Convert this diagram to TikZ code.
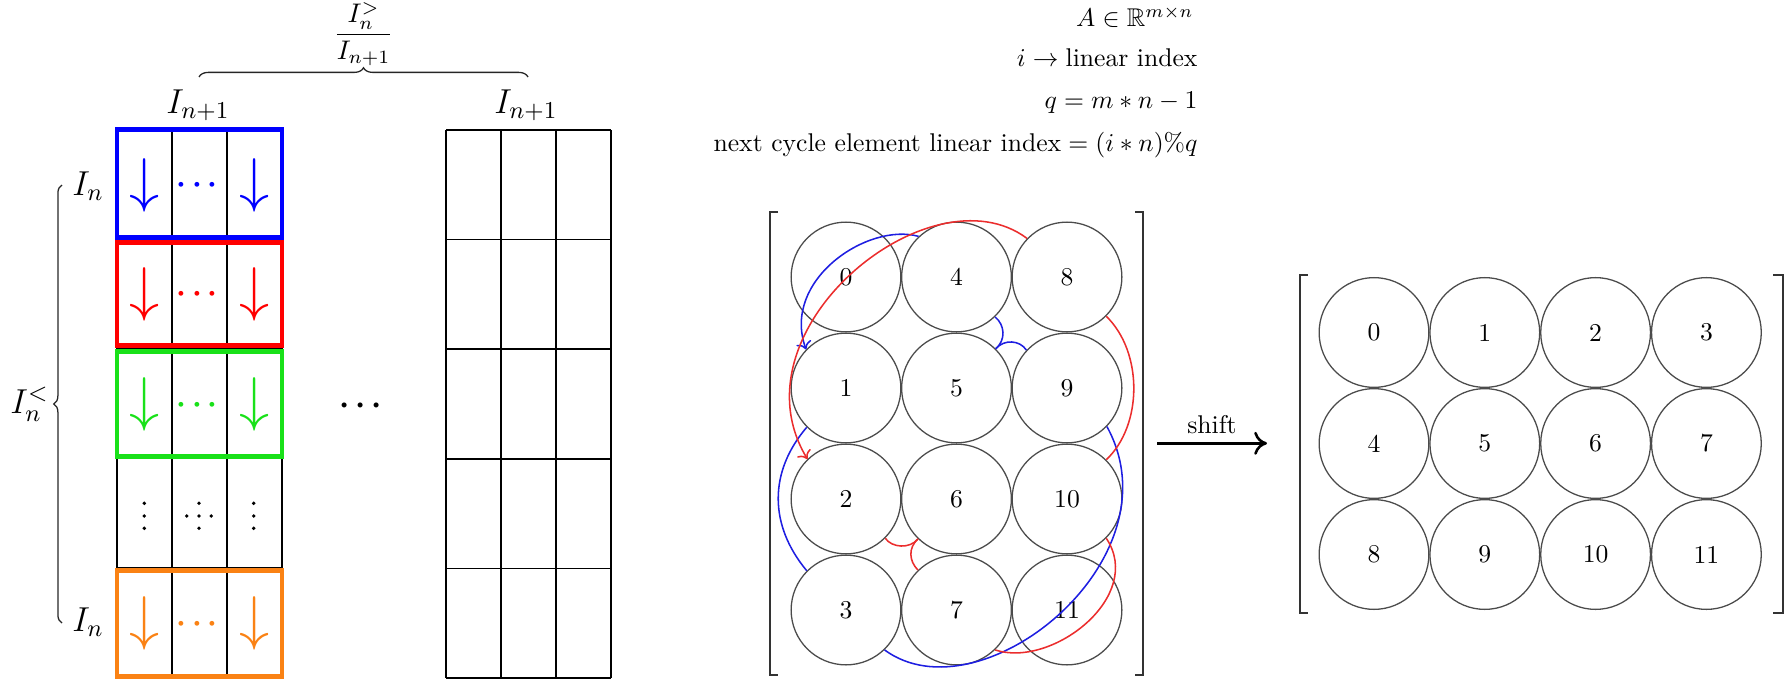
\RequirePackage{fix-cm}
\documentclass[tikz,border=0pt]{standalone}
\usepackage{amssymb}
\usetikzlibrary{decorations.pathreplacing,arrows.meta}
\definecolor{cgreen}{RGB}{25,225,25}
\definecolor{corange}{RGB}{250,130,20}
\definecolor{cred}{RGB}{255,0,0}
\definecolor{cblue}{RGB}{0,0,255}
\definecolor{arcred}{RGB}{235,45,45}
\definecolor{arcblue}{RGB}{30,30,225}
\definecolor{ringgray}{RGB}{75,75,75}
\tikzset{
 big/.style={font=\fontsize{13.5}{16}\selectfont, inner sep=0pt},
 darr/.style={font=\fontsize{23.5}{24}\selectfont, inner sep=0pt},
 ell/.style={font=\fontsize{12}{14}\selectfont\boldmath, inner sep=0pt, anchor=base},
 cell/.style={draw=black, line width=0.55pt},
 cbox/.style={line width=1.6pt},
 ring/.style={circle, draw=ringgray, line width=0.5pt, minimum size=42.8pt, inner sep=0pt, font=\fontsize{10}{12}\selectfont},
 bracket/.style={draw=black!80, line width=0.7pt},
 cyc/.style={line width=0.6pt},
 txt/.style={anchor=base east, inner sep=0pt},
 bracedeco/.style={decorate, line width=0.5pt, draw=black!85},
 dotf/.style={fill=black},
}
\begin{document}
\begin{tikzpicture}[x=0.39pt,y=-0.39pt]
\useasboundingbox (0,0) rectangle (1791,679);

% ---------- left block grid ----------
\foreach \x in {117,172,227,282} \draw[cell] (\x,129) -- (\x,677);
\foreach \y in {129,239,348,458,568,677} \draw[cell] (117,\y) -- (282,\y);
% ---------- right block grid ----------
\foreach \x in {446,501,556,611} \draw[cell] (\x,130) -- (\x,678);
\foreach \y in {130,239.5,349,459,568.5,678} \draw[cell] (446,\y) -- (611,\y);

% coloured boxes
\draw[cbox, cblue] (117,129.5) rectangle (282,237.5);
\draw[cbox, cred] (117,242.5) rectangle (282,345.5);
\draw[cbox, cgreen] (117,351.5) rectangle (282,456.5);
\draw[cbox, corange] (117,570.5) rectangle (282,676.5);

% arrows in cells
\node[darr, text=cblue] (ab1) at (144.5,185) {$\downarrow$};
\node[darr, text=cblue] (ab3) at (254.5,185) {$\downarrow$};
\node[darr, text=cred] (ar1) at (144.5,294) {$\downarrow$};
\node[darr, text=cred] (ar3) at (254.5,294) {$\downarrow$};
\node[darr, text=cgreen] (ag1) at (144.5,404) {$\downarrow$};
\node[darr, text=cgreen] (ag3) at (254.5,404) {$\downarrow$};
\node[darr, text=corange] (ao1) at (144.5,623) {$\downarrow$};
\node[darr, text=corange] (ao3) at (254.5,623) {$\downarrow$};

% horizontal ellipses
\node[ell, text=cblue] (db) at (197,192.7) {$\cdots$};
\node[ell, text=cred] (dr) at (197,301.7) {$\cdots$};
\node[ell, text=cgreen] (dg) at (197,412.7) {$\cdots$};
\node[ell, text=corange] (do) at (197,631) {$\cdots$};
\node[ell, font=\fontsize{12.5}{14}\selectfont\boldmath] (dm) at (360.7,413) {$\cdots$};

% dots row
\foreach \x in {144.3,199,253.7}
  \foreach \y in {503.3,516,528.3} \fill[dotf] (\x,\y) circle[radius=1.9];
\fill[dotf] (186.8,516) circle[radius=1.9];
\fill[dotf] (211.3,516) circle[radius=1.9];

% labels
\node[big, anchor=base] (lt) at (198,113.3) {$I_{n+1}$};
\node[big, anchor=base] (rt) at (526,113.3) {$I_{n+1}$};
\node[big, anchor=base] (in1) at (88,195) {$I_n$};
\node[big, anchor=base] (in2) at (88,631.7) {$I_n$};
\node[big, anchor=base] (inl) at (29.6,413.3) {$I_n^<$};
\node[font=\fontsize{10.5}{12}\selectfont, inner sep=0pt, anchor=base] (fr) at (363.6,41) {$\displaystyle\frac{I_n^>}{I_{n+1}}$};

% braces
\draw[bracedeco, decoration={brace, amplitude=3.6pt}] (199,77) -- (528,77);
\draw[bracedeco, decoration={brace, amplitude=3.2pt}] (62,623) -- (62,185);

% ---------- text block ----------
\node[txt] (t1) at (1194,26.7) {$A\in\mathbb{R}^{m\times n}$};
\node[txt] (t2) at (1198,66.7) {$i\rightarrow\mbox{linear index}$};
\node[txt] (t3) at (1198,108.3) {$q=m*n-1$};
\node[txt] (t4) at (1198,151.7) {$\mbox{next cycle element linear index}=(i*n)\%q$};

% ---------- left matrix ----------
\foreach \r in {0,...,3}
  \foreach \c in {0,1,2} {
    \pgfmathtruncatemacro\lab{\r+4*\c}
    \node[ring] (m\lab) at ({846+110.5*\c},{277+111*\r}) {\lab};
  }
\draw[bracket] (778,211.7) -- (770,211.7) -- (770,675) -- (778,675);
\draw[bracket] (1135,211.7) -- (1143,211.7) -- (1143,675) -- (1135,675);

% blue cycle 1 -> 3 -> 9 -> 5 -> 4 -> 1
\draw[cyc, arcblue, ->] (m4.133) .. controls (868,222) and (781,280) .. (m1.136);
\draw[cyc, arcblue] (m1.225) .. controls (768.7,471.7) and (768.7,525) .. (m3.135);
\draw[cyc, arcblue] (m3.314) .. controls (980,720) and (1180,560) .. (m9.316);
\draw[cyc, arcblue] (m9.137) .. controls (1020,340) and (1004,339) .. (m5.45);
\draw[cyc, arcblue] (m5.45) .. controls (1006,340) and (1005,325) .. (m4.314);

% red cycle 2 -> 6 -> 7 -> 10 -> 8 -> 2
\draw[cyc, arcred, ->] (m8.136) .. controls (930.7,166.3) and (729.6,329.8) .. (m2.134);
\draw[cyc, arcred] (m2.315) .. controls (892,548) and (910,549) .. (m6.226);
\draw[cyc, arcred] (m6.226) .. controls (908,548) and (909,561) .. (m7.134);
\draw[cyc, arcred] (m7.314) .. controls (1052,668.6) and (1145.2,596.4) .. (m10.315);
\draw[cyc, arcred] (m10.45) .. controls (1143,425) and (1143,352) .. (m8.315);

% ---------- shift arrow ----------
\coordinate (s1) at (1157,443.3);
\coordinate (s2) at (1267,443.3);
\draw[line width=1pt, -{To[length=5pt,width=9pt]}] (s1) -- (s2)
  node[midway, anchor=base, yshift=3.9pt, inner sep=0pt] (sl) {shift};

% ---------- right matrix ----------
\foreach \r in {0,1,2}
  \foreach \c in {0,...,3} {
    \pgfmathtruncatemacro\lab{4*\r+\c}
    \node[ring] (r\lab) at ({1374+110.8*\c},{332.5+111*\r}) {\lab};
  }
\draw[bracket] (1308,275) -- (1300,275) -- (1300,612.7) -- (1308,612.7);
\draw[bracket] (1773,275) -- (1782.6,275) -- (1782.6,612.7) -- (1773,612.7);
\end{tikzpicture}
\end{document}
